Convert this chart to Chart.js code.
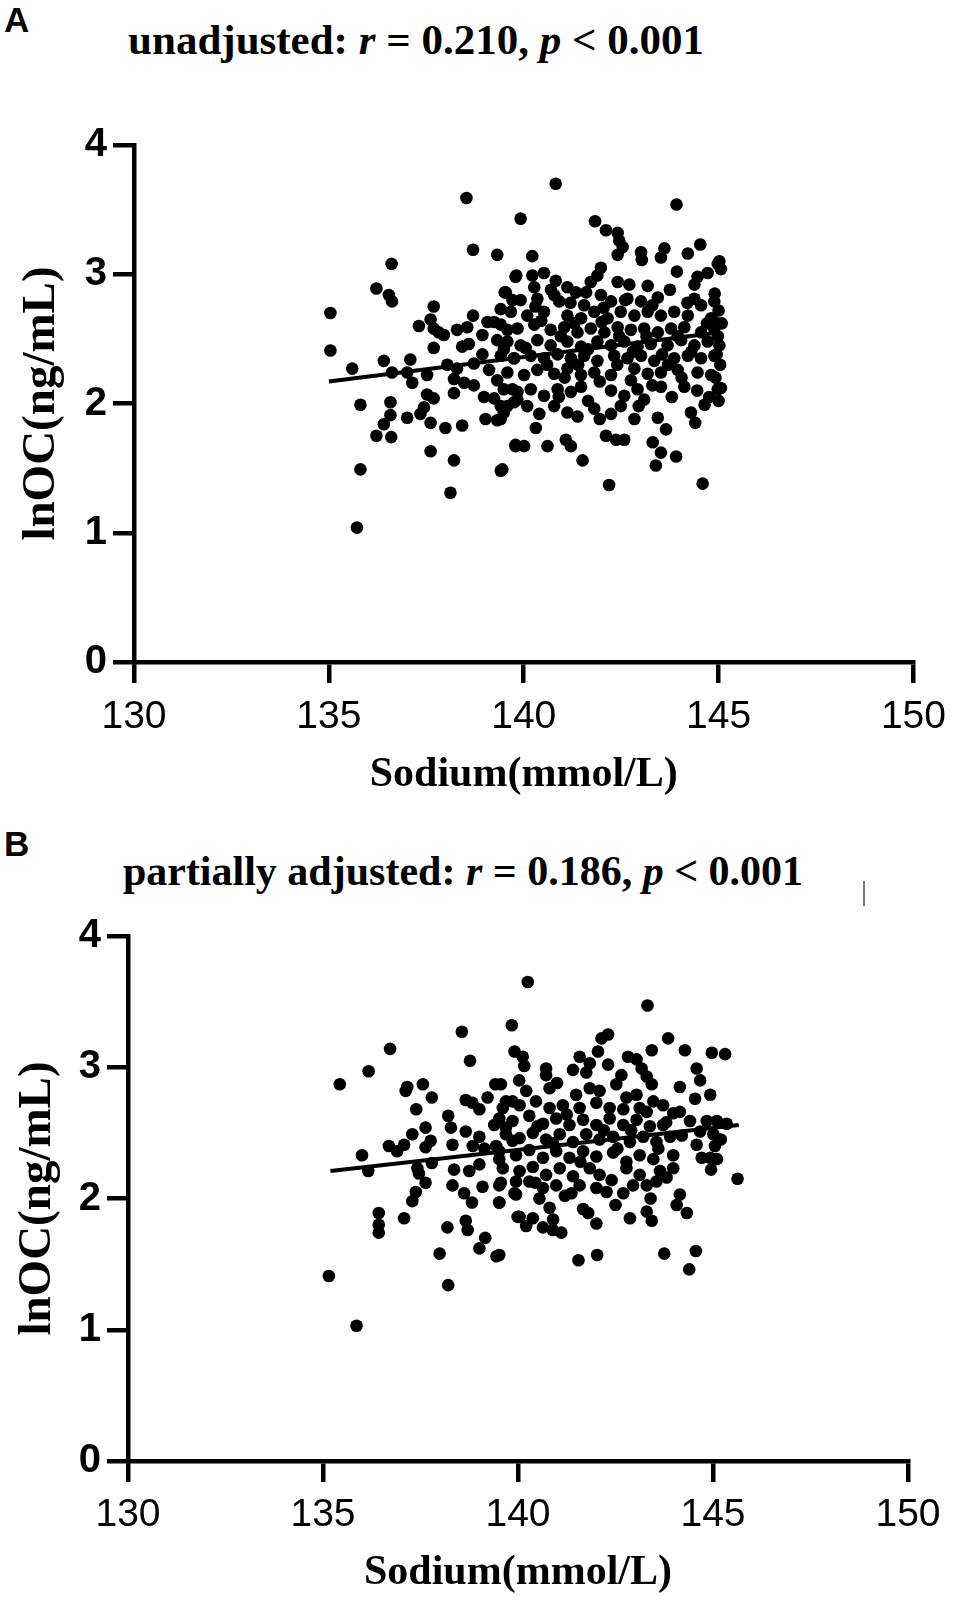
<!DOCTYPE html>
<html><head><meta charset="utf-8">
<script src="https://cdn.jsdelivr.net/npm/chart.js@4.4.1/dist/chart.umd.min.js"></script>
<style>
html,body{margin:0;padding:0;background:#fff;}
.wrap{position:relative;width:957px;height:1618px;overflow:hidden;background:#fff;}
canvas{position:absolute;left:0;}
.panel{position:absolute;left:4px;font-family:"Liberation Sans",Arial,sans-serif;font-weight:bold;font-size:35px;line-height:1;color:#000;}
.title{position:absolute;font-family:"Liberation Serif","Times New Roman",serif;font-weight:bold;white-space:nowrap;line-height:1;color:#000;transform:translateX(-50%);}
.mark{position:absolute;left:863px;top:881px;width:1.5px;height:25px;background:#777;}
</style></head>
<body><div class="wrap">
<div class="panel" style="top:2px">A</div>
<div class="title" style="left:416px;top:18px;font-size:43px">unadjusted: <i>r</i> = 0.210, <i>p</i> &lt; 0.001</div>
<canvas id="cA" width="957" height="720" style="top:100px"></canvas>
<div class="panel" style="top:826px">B</div>
<div class="title" style="left:463px;top:850px;font-size:42px">partially adjusted: <i>r</i> = 0.186, <i>p</i> &lt; 0.001</div>
<div class="mark"></div>
<canvas id="cB" width="957" height="720" style="top:880px"></canvas>
</div>
<script>
const xTicks = [130, 135, 140, 145, 150];
const yTicks = [0, 1, 2, 3, 4];
const xTitle = "Sodium(mmol/L)";
const yTitle = "lnOC(ng/mL)";

// Panel A: unadjusted
const sodiumA = [
138.53,138.70,139.32,136.61,139.79,136.22,136.54,136.62,139.51,135.04,137.69,139.41,139.71,138.70,137.61,137.31,138.29,138.55,138.94,139.24,
139.07,139.58,137.69,137.95,137.82,138.42,138.59,137.69,139.32,139.49,139.75,135.04,138.94,135.60,136.41,137.09,138.04,138.29,138.72,136.62,
137.01,137.52,137.14,138.21,138.47,138.72,139.11,139.32,139.71,139.84,135.81,136.58,137.52,137.69,138.21,138.98,139.24,139.58,137.44,137.35,
136.58,136.41,137.01,137.61,137.99,138.42,139.02,139.32,139.49,136.22,136.60,137.61,138.21,139.79,135.81,139.41,138.12,135.72,
140.82,143.92,139.92,141.83,142.11,142.41,142.45,142.54,142.41,143.01,143.03,143.61,143.52,144.21,144.53,144.98,143.93,144.46,144.72,144.38,
140.22,139.81,140.22,140.52,140.82,141.12,141.34,141.98,141.89,141.72,142.41,142.71,143.18,139.54,139.92,140.27,140.35,140.78,140.91,141.55,
141.98,142.24,142.66,143.01,143.44,144.38,144.55,144.89,139.67,140.09,140.52,141.12,141.47,141.81,142.15,142.49,142.84,143.18,143.52,143.86,
144.21,144.81,139.41,139.84,140.27,140.69,141.04,141.38,141.72,142.07,142.41,142.75,143.09,143.44,143.78,144.12,144.55,144.89,139.58,139.92,
140.35,140.69,141.12,141.47,141.89,142.24,142.58,142.92,143.26,143.69,144.04,144.38,144.72,139.41,139.75,140.18,140.52,140.87,141.21,141.55,
141.89,142.32,142.66,143.01,143.35,143.86,144.21,144.55,144.89,139.58,140.01,140.35,140.78,141.12,141.47,141.81,142.24,142.84,143.18,143.52,
143.95,144.46,144.81,139.49,139.84,140.18,140.52,140.87,141.21,141.47,142.24,142.58,142.92,143.52,144.12,144.98,139.41,139.75,140.09,140.78,
141.12,141.38,141.81,142.24,142.49,142.84,143.09,143.44,144.29,144.64,144.76,139.41,140.31,139.79,140.01,140.61,141.08,141.21,141.51,142.11,
142.37,142.58,143.31,143.52,143.91,143.39,139.45,142.19,144.59,
145.02,145.06,144.98,145.02,145.06,144.92,145.04,144.96,145.00,144.90,145.08,144.95,145.00,
140.45,140.95,141.30,141.65,142.00,142.45,142.80,143.15,143.55,143.95,144.30,144.70,140.05,140.60,141.05,141.40,141.95,142.40,142.75,143.30,
143.70,144.05,144.45,140.30,140.70,141.20,141.60,142.05,142.60,143.30,143.75,144.20,140.90,141.65,142.95,143.80,140.40,141.95,143.65,144.40
];
const lnocA = [
3.59,3.19,3.15,3.08,2.98,2.89,2.84,2.79,2.86,2.70,2.75,2.73,2.80,2.68,2.65,2.60,2.57,2.59,2.53,2.63,
2.63,2.57,2.58,2.53,2.55,2.44,2.46,2.43,2.49,2.42,2.35,2.41,2.38,2.27,2.33,2.34,2.30,2.27,2.31,2.24,
2.24,2.22,2.16,2.19,2.16,2.14,2.26,2.18,2.11,2.03,1.99,2.01,2.07,2.04,2.08,2.05,2.04,1.98,1.97,1.92,
1.91,1.84,1.89,1.85,1.81,1.83,1.88,1.87,1.93,1.75,1.74,1.63,1.56,1.68,1.49,1.48,1.31,1.04,
3.70,3.54,3.43,3.41,3.34,3.32,3.26,3.21,3.15,3.17,3.11,3.20,3.13,3.16,3.23,3.08,3.02,2.98,3.01,2.92,
3.14,2.99,2.99,3.01,2.95,2.90,2.86,3.05,2.99,2.94,2.94,2.92,2.91,2.86,2.80,2.90,2.81,2.84,2.79,2.76,
2.84,2.79,2.81,2.79,2.82,2.81,2.76,2.79,2.71,2.68,2.71,2.68,2.66,2.71,2.66,2.71,2.68,2.71,2.68,2.71,
2.68,2.66,2.61,2.58,2.61,2.57,2.59,2.55,2.58,2.55,2.59,2.57,2.58,2.55,2.58,2.59,2.55,2.58,2.48,2.45,
2.49,2.45,2.48,2.44,2.48,2.45,2.48,2.44,2.46,2.45,2.49,2.45,2.48,2.37,2.35,2.37,2.35,2.38,2.35,2.37,
2.33,2.37,2.35,2.37,2.33,2.35,2.37,2.35,2.37,2.24,2.22,2.26,2.23,2.27,2.22,2.24,2.22,2.27,2.23,2.24,
2.26,2.24,2.22,2.11,2.09,2.11,2.06,2.11,2.09,2.13,2.10,2.06,2.11,2.13,2.13,2.11,1.98,2.01,1.98,1.98,
1.93,1.90,1.96,1.92,1.98,1.88,2.03,1.89,1.93,1.99,2.05,1.88,1.81,1.67,1.67,1.67,1.72,1.67,1.56,1.75,
1.72,1.72,1.70,1.62,1.59,1.52,1.49,1.37,1.38,
3.10,3.04,2.52,2.45,2.12,2.20,2.30,2.62,2.72,2.85,2.62,2.38,2.02,
2.64,2.52,2.62,2.42,2.63,2.52,2.40,2.52,2.38,2.52,2.40,2.62,2.43,2.30,2.20,2.30,2.17,2.30,2.18,2.14,
2.30,2.20,2.10,2.75,2.88,2.78,2.86,2.74,2.80,2.76,2.88,2.78,2.05,2.02,1.98,2.05,1.92,1.88,1.80,1.85
];
const fitSodiumA = [135.0, 145.0];
const fitLnocA = [2.17, 2.55];

// Panel B: partially adjusted
const sodiumB = [
138.56,136.72,138.77,136.17,135.43,137.16,137.12,137.56,137.79,139.42,139.22,138.66,138.83,139.01,139.61,139.86,137.39,138.21,138.28,137.63,
137.29,137.08,137.76,137.63,136.69,136.90,136.00,136.16,138.66,139.01,139.39,139.69,139.86,138.32,138.84,139.14,139.44,139.52,137.79,137.42,
137.46,138.36,138.75,139.01,137.63,137.38,137.29,138.32,138.62,138.82,139.09,139.56,139.52,139.91,139.95,136.43,136.43,136.43,137.08,138.19,
138.66,138.71,139.16,139.01,137.99,139.45,139.99,135.15,138.21,135.86,
140.25,143.32,139.84,142.31,142.14,143.85,143.43,144.28,144.97,145.31,139.91,140.12,140.16,141.58,142.05,142.31,141.84,141.41,140.72,140.72,
142.82,143.04,143.17,143.30,143.43,144.58,144.67,144.93,144.54,144.15,140.03,139.56,140.21,140.81,141.49,141.84,142.09,142.52,142.78,143.04,
143.47,143.72,143.98,144.15,139.69,140.04,140.46,140.81,141.15,141.58,142.01,142.35,142.70,143.12,139.52,139.86,140.29,140.64,140.98,141.32,
141.67,142.01,142.35,142.70,143.04,143.38,143.72,144.41,144.84,145.10,145.35,139.69,140.04,140.38,140.72,141.07,141.41,141.75,142.09,142.44,
142.87,143.21,143.55,143.90,144.67,145.01,139.52,139.95,140.29,140.64,140.98,141.32,141.67,142.01,142.44,142.78,143.12,143.47,143.98,144.58,
145.05,144.71,144.93,139.61,140.04,140.38,140.72,141.07,141.41,141.84,142.09,142.78,143.12,143.64,143.98,139.52,139.95,140.29,140.64,140.98,
141.37,141.58,142.01,142.27,142.70,142.95,143.30,143.55,143.81,144.15,139.52,140.55,140.81,140.04,140.21,140.38,140.64,140.89,141.11,141.67,
141.80,142.01,142.87,143.30,143.43,144.07,144.33,139.52,141.55,142.03,143.75,144.56,144.39,
145.63,145.10,144.95,145.20,
140.50,140.90,141.25,141.60,142.20,142.55,142.90,143.30,143.60,141.00,141.75,142.65,140.45,141.20,142.40,143.40,140.90,142.50,143.80,144.20
];
const lnocB = [
3.27,3.14,3.05,2.97,2.87,2.85,2.82,2.87,2.77,2.87,2.77,2.75,2.73,2.68,2.69,2.74,2.68,2.63,2.54,2.54,
2.49,2.41,2.44,2.39,2.40,2.36,2.33,2.21,2.51,2.47,2.56,2.54,2.44,2.41,2.40,2.38,2.40,2.30,2.27,2.23,
2.19,2.22,2.21,2.26,2.12,2.05,1.98,2.10,2.04,1.97,2.09,2.12,1.97,2.04,2.13,1.89,1.80,1.74,1.85,1.78,
1.83,1.76,1.70,1.62,1.58,1.56,1.86,1.41,1.34,1.03,
3.65,3.47,3.32,3.25,3.22,3.22,3.13,3.13,3.11,3.10,3.12,3.08,3.01,3.08,3.12,3.02,3.03,2.98,2.99,2.94,
3.08,3.06,2.99,2.93,2.87,2.99,2.90,2.79,2.76,2.85,2.90,2.87,2.82,2.84,2.79,2.84,2.82,2.87,2.77,2.79,
2.74,2.71,2.65,2.66,2.74,2.71,2.74,2.69,2.71,2.69,2.73,2.69,2.68,2.69,2.61,2.59,2.63,2.57,2.61,2.56,
2.60,2.56,2.61,2.56,2.60,2.55,2.56,2.59,2.59,2.59,2.57,2.49,2.46,2.50,2.45,2.49,2.43,2.49,2.45,2.47,
2.43,2.47,2.43,2.47,2.51,2.49,2.36,2.33,2.37,2.31,2.36,2.31,2.36,2.32,2.35,2.28,2.33,2.30,2.33,2.41,
2.40,2.31,2.31,2.23,2.21,2.24,2.18,2.23,2.17,2.23,2.18,2.23,2.18,2.21,2.23,2.10,2.03,2.13,2.08,2.10,
2.04,2.10,2.08,2.05,2.04,2.10,2.10,2.13,2.16,2.03,1.97,2.00,1.93,1.86,1.79,1.85,1.78,1.76,1.74,1.92,
1.89,1.81,1.85,1.90,1.83,1.95,1.89,1.57,1.53,1.57,1.58,1.60,1.46,
2.15,2.30,2.22,2.45,
2.55,2.42,2.64,2.28,2.52,2.38,2.52,2.66,2.38,2.88,2.96,2.94,2.12,2.02,2.14,2.00,1.84,1.95,2.58,2.48
];
const fitSodiumB = [135.19, 145.66];
const fitLnocB = [2.21, 2.56];

function pts(xs, ys) { return xs.map((x, i) => ({ x: x, y: ys[i] })); }

function makeChart(id, xs, ys, fx, fy, L) {
  const tickFontX = { family: "'Liberation Sans', Arial, sans-serif", size: 39, weight: 'normal' };
  const tickFontY = { family: "'Liberation Sans', Arial, sans-serif", size: 40, weight: 'bold' };
  const xTitleFont = { family: "'Liberation Serif', 'Times New Roman', serif", size: 42, weight: 'bold' };
  const yTitleFont = { family: "'Liberation Serif', 'Times New Roman', serif", size: 47, weight: 'bold' };
  return new Chart(document.getElementById(id), {
    type: 'scatter',
    data: {
      datasets: [
        { type: 'line', data: pts(fx, fy), borderColor: '#000', borderWidth: 4, pointRadius: 0, fill: false, order: 0, tension: 0 },
        { type: 'scatter', data: pts(xs, ys), backgroundColor: '#000', borderWidth: 0, pointRadius: 6.3, pointHoverRadius: 6.3, order: 1 }
      ]
    },
    options: {
      responsive: false, animation: false, devicePixelRatio: 1,
      layout: { padding: { top: L.top, right: L.right, left: 0, bottom: 0 } },
      plugins: { legend: { display: false }, tooltip: { enabled: false } },
      scales: {
        x: {
          type: 'linear', min: xTicks[0], max: xTicks[xTicks.length - 1],
          afterBuildTicks: s => { s.ticks = xTicks.map(v => ({ value: v })); },
          afterFit: s => { s.height = L.xh; },
          border: { display: true, color: '#000', width: 4.5 },
          grid: { display: true, drawOnChartArea: false, drawTicks: true, tickLength: 21, color: '#000', lineWidth: 4.5 },
          ticks: { color: '#000', font: tickFontX, padding: L.xpad, maxRotation: 0, autoSkip: false },
          title: { display: true, text: xTitle, color: '#000', font: xTitleFont, padding: { top: 0, bottom: L.xtpad } }
        },
        y: {
          type: 'linear', min: yTicks[0], max: yTicks[yTicks.length - 1],
          afterBuildTicks: s => { s.ticks = yTicks.map(v => ({ value: v })); },
          afterFit: s => { s.width = L.yw; },
          border: { display: true, color: '#000', width: 4.5 },
          grid: { display: true, drawOnChartArea: false, drawTicks: true, tickLength: 21, color: '#000', lineWidth: 4.5 },
          ticks: { color: '#000', font: tickFontY, padding: 6, autoSkip: false },
          title: { display: true, text: yTitle, color: '#000', font: yTitleFont, padding: { top: L.ytpad, bottom: 0 } }
        }
      }
    }
  });
}

makeChart('cA', sodiumA, lnocA, fitSodiumA, fitLnocA, { top: 45, right: 43, xh: 158, yw: 134, xpad: 11, xtpad: 20, ytpad: 14 });
makeChart('cB', sodiumB, lnocB, fitSodiumB, fitLnocB, { top: 56, right: 49, xh: 139, yw: 128, xpad: 10, xtpad: 2, ytpad: 10 });
</script>
</body></html>
